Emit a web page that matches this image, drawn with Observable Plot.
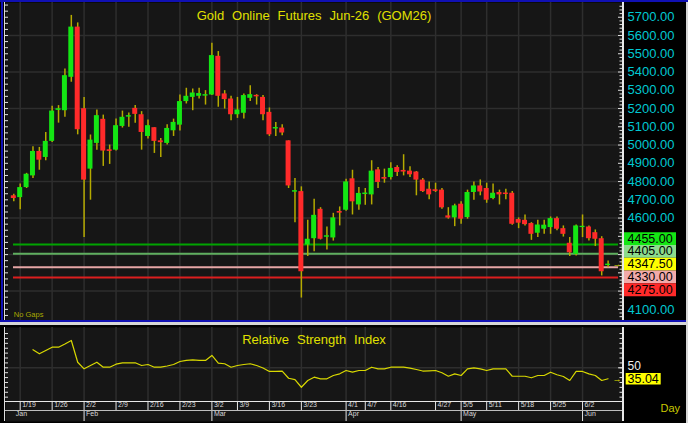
<!DOCTYPE html>
<html><head><meta charset="utf-8">
<script src="https://cdn.jsdelivr.net/npm/d3@7"></script>
<script src="https://cdn.jsdelivr.net/npm/@observablehq/plot@0.6"></script>
<style>
body{margin:0;background:#d6d6d6;font-family:"Liberation Sans",Arial,sans-serif}
#wrap{position:relative;width:688px;height:423px;overflow:hidden;background:#d6d6d6}
.abs{position:absolute}
</style></head><body>
<div id="wrap">
<div id="main" class="abs" style="left:0;top:0"></div>
<div id="rsi" class="abs" style="left:0;top:325px"></div>
<div class="abs" style="left:0;top:0;width:688px;height:2px;background:#1010b4"></div>
<div class="abs" style="left:1px;top:0;width:2px;height:322px;background:#1010b4"></div>
<div class="abs" style="left:0;top:320px;width:688px;height:2px;background:#1010b4"></div>
<div class="abs" style="left:4px;top:2px;width:1px;height:318px;background:#dcdcdc"></div>
<div class="abs" style="left:622px;top:2px;width:1.5px;height:318px;background:#e8e8e8"></div>
<div class="abs" style="left:4px;top:327px;width:1px;height:94px;background:#dcdcdc"></div>
<div class="abs" style="left:622px;top:327px;width:1.5px;height:94px;background:#e8e8e8"></div>
<div class="abs" style="left:5px;top:401px;width:617px;height:1px;background:#e8e8e8"></div>
<div class="abs" style="left:5px;top:410px;width:617px;height:1px;background:#bdbdbd"></div>
<div class="abs" style="left:686px;top:2px;width:2px;height:421px;background:#d6d6d6"></div>
</div>
<script>
// ---------- data ----------
const title = "Gold Online Futures Jun-26 (GOM26)";
const opens = [4722,4712,4767,4831,4965,4932,5020,5190,5188,5371,
5646,5199,4868,5009,5141,4974,4972,5102,5153,5201,
5166,5047,5095,5023,5009,5078,5109,5238,5261,5267,
5268,5274,5486,5280,5252,5166,5174,5256,5272,5261,
5179,5088,5093,5023,4742,4745,4453,4487,4648,4495,
4491,4636,4643,4815,4672,4729,4727,4864,4822,4822,
4877,4861,4857,4852,4808,4758,4755,4753,4612,4601,
4676,4603,4740,4776,4762,4707,4740,4737,4736,4592,
4588,4570,4517,4539,4548,4597,4542,4462,4401,4548,
4551,4520,4487,4340];
const highs = [4731,4786,4845,4990,4987,5069,5212,5216,5417,5710,
5669,5261,5055,5192,5164,5000,5142,5186,5175,5216,
5183,5137,5095,5036,5111,5142,5274,5311,5307,5311,
5298,5558,5512,5298,5267,5261,5280,5325,5276,5271,
5203,5124,5111,5023,4817,4771,4588,4703,4657,4551,
4626,4661,4813,4862,4767,4762,4914,4877,4868,4903,
4886,4947,4881,4855,4817,4798,4791,4762,4657,4676,
4689,4753,4798,4809,4791,4786,4753,4758,4745,4601,
4617,4575,4588,4588,4606,4606,4557,4493,4562,4617,
4557,4535,4498,4365];
const lows = [4689,4645,4762,4817,4862,4914,5014,5120,5152,5344,
5056,4493,4698,4972,4883,4894,4967,5093,5097,5119,
4972,5033,4954,4932,5000,5047,5077,5225,5188,5252,
5219,5271,5207,5197,5133,5146,5142,5238,5219,5133,
5047,5047,5051,4762,4575,4162,4389,4416,4480,4425,
4474,4557,4637,4617,4643,4670,4672,4762,4791,4808,
4828,4831,4822,4722,4740,4700,4740,4648,4594,4553,
4566,4594,4698,4722,4681,4700,4672,4700,4561,4542,
4557,4478,4493,4511,4511,4530,4496,4389,4392,4493,
4474,4444,4283,4328];
const closes = [4707,4767,4840,4965,4917,5020,5186,5199,5380,5646,
5084,4808,5027,5161,4967,4965,5106,5152,5161,5168,
5069,5106,5020,5013,5091,5124,5238,5267,5285,5282,
5276,5490,5267,5249,5166,5192,5271,5276,5264,5166,
5056,5096,5066,4776,4750,4306,4484,4615,4484,4503,
4601,4627,4798,4689,4735,4737,4857,4795,4813,4872,
4850,4852,4837,4808,4745,4727,4746,4656,4600,4667,
4594,4740,4776,4743,4698,4736,4727,4729,4566,4572,
4564,4511,4562,4561,4597,4539,4511,4410,4557,4555,
4487,4484,4306,4347.5];
const rsiStart = 4;
const rsiValues = [74.6,69.1,73.6,78.1,78.1,82.5,87.2,57.6,48.6,53.1,
57.6,50.8,50.8,54.9,56.8,56.8,56.8,53.1,54.5,50.8,
50.8,52.5,54.5,58.6,60.0,60.9,60.0,60.0,66.8,56.3,
55.5,50.8,53.1,54.5,55.5,53.1,49.7,45.0,45.0,45.4,
35.8,34.0,23.5,32.7,37.2,35.0,35.0,39.5,41.8,46.3,
44.0,46.3,46.3,50.8,48.6,48.6,50.8,50.8,50.8,49.5,
47.7,45.6,45.9,46.3,43.2,38.5,41.8,39.5,48.6,50.0,
48.6,46.3,48.6,48.6,48.6,38.5,38.5,38.5,36.4,39.5,
39.5,44.0,40.5,38.1,32.7,45.0,45.0,41.8,39.5,32.7,
35.04];
const weekTickIdx = [2,7,12,17,22,27,32,36,41,46,53,56,60,67,71,75,80,85,90];
const weekTickLabels = ["1/19","1/26","2/2","2/9","2/16","2/23","3/2","3/9","3/16","3/23","4/1","4/7","4/16","4/27","5/5","5/11","5/18","5/25","6/2"];
const mainGridIdx = [2,7,12,17,22,27,32,36,41,46,53,60,67,71,75,80,85,90];
const monthIdx = [1,12,32,53,71,90];
const monthLabels = ["Jan","Feb","Mar","Apr","May","Jun"];
const priceTicks = [4100,4200,4300,4400,4500,4600,4700,4800,4900,5000,5100,5200,5300,5400,5500,5600,5700];
const gridPrices = [4200,4400,4600,4800,5000,5200,5400,5600];
const levelPrices = [4455, 4405, 4347.5, 4330, 4275];
const levelLabels = ["4455.00","4405.00","4347.50","4330.00","4275.00"];
const levelLineColors = ["#00a400","#5fae5f",null,"#e6a6a6","#dc1e1e"];
const levelBoxColors = ["#14e614","#8cdc8c","#ffff00","#f2aaaa","#ff2a2a"];
const lastIndex = 2;

// ---------- build ----------
const font = "Liberation Sans, Arial, sans-serif";
const candles = opens.map((o,k)=>({i:k+1,o,h:highs[k],l:lows[k],c:closes[k]}));
const rsi = rsiValues.map((v,k)=>({i:k+rsiStart,v}));
const levels = levelPrices.map((p,k)=>({price:p,label:levelLabels[k],line:levelLineColors[k],box:levelBoxColors[k]}));

const xOpt = {type:"linear", domain:[1,94], range:[13.3,607.6], axis:null};
const yDom = [4200,5600], yRng = [290.6,35];
const yPx = d3.scaleLinear(yDom, yRng);

// stack the right-hand boxes around the last price box
const boxH = 12.8;
const centers = levels.map(d=>yPx(d.price));
const placed = centers.slice();
for (let k=lastIndex-1;k>=0;k--) placed[k] = Math.min(centers[k], placed[k+1]-boxH);
for (let k=lastIndex+1;k<levels.length;k++) placed[k] = Math.max(centers[k], placed[k-1]+boxH);
const stackTop = placed[0]-boxH/2, stackBottom = placed[placed.length-1]+boxH/2;
// axis labels hidden behind the box stack are not drawn
const visibleLabels = priceTicks.filter(p=>{const y=yPx(p); return y<stackTop-5 || y>stackBottom+5;});

const leftTicks = d3.range(4000,5800,100/3).filter(p=>p>=4050&&p<=5770);
const rightMinor = d3.range(4060,5780,20).filter(p=>p<=5770&&p%100!==0);

const boxMarks = levels.flatMap((d,k)=>[
  Plot.tickY([d],{y:"price",dy:placed[k]-centers[k],stroke:d.box,strokeWidth:boxH,insetLeft:616.7,insetRight:-54}),
  Plot.text([d],{y:"price",dy:placed[k]-centers[k],text:"label",frameAnchor:"right",dx:5,textAnchor:"start",fill:"#000",fontSize:12.5})
]);

const main = Plot.plot({
  width:688, height:322,
  marginLeft:5, marginRight:66, marginTop:2, marginBottom:2,
  style:{background:"#000", fontFamily:font, overflow:"visible"},
  x:xOpt,
  y:{type:"linear", domain:yDom, range:yRng, axis:null},
  marks:[
    Plot.frame({fill:"#161616", stroke:null}),
    Plot.ruleY(gridPrices,{y:d=>d, stroke:"#2e2e2e", strokeWidth:1.5}),
    Plot.ruleX(mainGridIdx,{x:d=>d, stroke:"#2e2e2e", strokeWidth:1.5}),
    Plot.tickY(leftTicks,{y:d=>d, stroke:"#e0e0e0", insetRight:614}),
    Plot.tickY(rightMinor,{y:d=>d, stroke:"#e0e0e0", insetLeft:614.5}),
    Plot.tickY(priceTicks,{y:d=>d, stroke:"#e0e0e0", insetLeft:613}),
    Plot.tickY(levels.filter(d=>d.line),{y:"price", stroke:"line", strokeWidth:2, insetLeft:8, insetRight:4}),
    Plot.ruleX(candles,{x:"i", y1:"l", y2:"h", stroke:"#b5aa00", strokeWidth:1.5}),
    Plot.rect(candles,{x1:d=>d.i-0.5, x2:d=>d.i+0.5, y1:"o", y2:"c", insetLeft:0.7, insetRight:0.7,
      fill:d=>d.c>=d.o?"#14e614":"#ff2a2a"}),
    Plot.text(visibleLabels,{y:d=>d, text:d=>d.toFixed(2), frameAnchor:"right", dx:5, textAnchor:"start", fill:"#00c8d2", fontSize:13}),
    ...boxMarks,
    Plot.text([levels[lastIndex]],{y:"price", text:()=>"→", frameAnchor:"right", dx:-1, textAnchor:"end", fill:"#e0e000", fontSize:9}),
    Plot.text([title],{text:d=>d, frameAnchor:"top", dy:8.5, fill:"#e0e000", fontSize:13}),
    Plot.text(["No Gaps"],{text:d=>d, frameAnchor:"bottom-left", dx:8.3, dy:-4, textAnchor:"start", fill:"#a8a800", fontSize:7.5})
  ]
});
document.getElementById("main").appendChild(main);

const rsiTicks = d3.range(-6,8).map(n=>50+n*20/3);
const rsiLast = rsiValues[rsiValues.length-1];
const rsiPlot = Plot.plot({
  width:688, height:98,
  marginLeft:5, marginRight:66, marginTop:2, marginBottom:2,
  style:{background:"#000", fontFamily:font, overflow:"visible"},
  x:xOpt,
  y:{type:"linear", domain:[0,100], range:[79,5.6], axis:null},
  marks:[
    Plot.frame({fill:"#161616", stroke:null}),
    Plot.ruleY([50],{y:d=>d, stroke:"#2e2e2e", strokeWidth:1.5}),
    Plot.ruleX(weekTickIdx,{x:d=>d, stroke:"#2e2e2e", strokeWidth:1.5, insetBottom:20}),
    Plot.ruleX(weekTickIdx,{x:d=>d, stroke:"#e6e6e6", insetTop:74, insetBottom:11}),
    Plot.ruleX(monthIdx.slice(1),{x:d=>d, stroke:"#e6e6e6", insetTop:83}),
    Plot.text(weekTickLabels,{x:(d,k)=>weekTickIdx[k], text:d=>d, frameAnchor:"bottom", dy:-14.5, dx:2, textAnchor:"start", fill:"#d8d8d8", fontSize:7}),
    Plot.text(monthLabels,{x:(d,k)=>monthIdx[k], text:d=>d, frameAnchor:"bottom", dy:-5.3, dx:2, textAnchor:"start", fill:"#d8d8d8", fontSize:7}),
    Plot.tickY(rsiTicks,{y:d=>d, stroke:"#e0e0e0", insetRight:614}),
    Plot.tickY(rsiTicks,{y:d=>d, stroke:"#e0e0e0", insetLeft:614.5}),
    Plot.tickY([50],{y:d=>d, stroke:"#e0e0e0", insetLeft:613}),
    Plot.line(rsi,{x:"i", y:"v", stroke:"#d8d800", strokeWidth:1.2}),
    Plot.text(["Relative Strength Index"],{text:d=>d, frameAnchor:"top", dy:7.5, fill:"#e0e000", fontSize:13}),
    Plot.text([50],{y:d=>d, text:d=>String(d), frameAnchor:"right", dx:5, dy:-1.5, textAnchor:"start", fill:"#f0f0f0", fontSize:12}),
    Plot.tickY([rsiLast],{y:d=>d, stroke:"#ffff00", strokeWidth:11.5, insetLeft:620.7, insetRight:-38.7}),
    Plot.text([rsiLast],{y:d=>d, text:d=>d.toFixed(2), frameAnchor:"right", dx:5, dy:0.5, textAnchor:"start", fill:"#000", fontSize:12.5}),
    Plot.text([rsiLast],{y:d=>d, text:()=>"→", frameAnchor:"right", dx:-1, textAnchor:"end", fill:"#e0e000", fontSize:9}),
    Plot.text(["Day"],{text:d=>d, frameAnchor:"bottom-right", dx:38, dy:-9.3, textAnchor:"start", fill:"#c8c800", fontSize:11})
  ]
});
document.getElementById("rsi").appendChild(rsiPlot);

// widen word spacing of the two titles
d3.selectAll("#wrap svg text").filter(function(){
  return this.textContent===title || this.textContent==="Relative Strength Index";
}).style("word-spacing","4.3px");
</script>
</body></html>
